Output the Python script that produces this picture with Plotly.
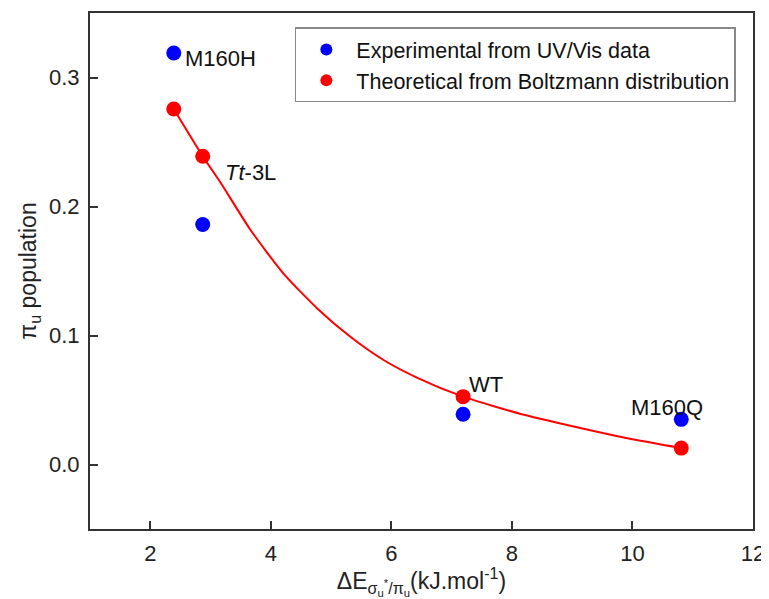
import plotly.graph_objects as go

# Data
exp_x = [2.39, 2.87, 7.19, 10.81]
exp_y = [0.319, 0.186, 0.039, 0.035]
theo_x = [2.39, 2.87, 7.19, 10.81]
theo_y = [0.2756, 0.239, 0.0526, 0.0127]
# fitted red curve
fit_x = [2.39, 2.87, 3.16, 3.66, 4.21, 4.77, 5.32, 5.87, 6.44, 7.19, 8.2, 9.3, 10.0, 10.81]
fit_y = [0.2756, 0.239, 0.219, 0.182, 0.148, 0.121, 0.099, 0.081, 0.067, 0.0526, 0.0385, 0.0265, 0.0195, 0.0127]
labels = ["M160H", "<i>Tt</i>-3L", "WT", "M160Q"]
label_x = [2.55, 3.2, 7.25, 9.94]
label_y = [0.315, 0.226, 0.0617, 0.0439]

FONT = "Liberation Sans, Arial, sans-serif"
OFF = 8  # page body margin offset

fig = go.Figure()
fig.add_trace(go.Scatter(
    x=fit_x, y=fit_y, mode="lines", line=dict(color="#ff0000", width=2, shape="spline", smoothing=0.6),
    showlegend=False, hoverinfo="skip"))
fig.add_trace(go.Scatter(
    x=exp_x, y=exp_y, mode="markers", name="Experimental from UV/Vis data",
    marker=dict(color="#0000ff", size=15)))
fig.add_trace(go.Scatter(
    x=theo_x, y=theo_y, mode="markers", name="Theoretical from Boltzmann distribution",
    marker=dict(color="#ff0000", size=15)))

for t, lx, ly in zip(labels, label_x, label_y):
    fig.add_annotation(x=lx, y=ly, text=t, showarrow=False, xanchor="left", yanchor="middle",
                       font=dict(family=FONT, size=22, color="#111"))

axis_common = dict(showline=True, linecolor="#333", linewidth=2, mirror=True,
                   ticks="inside", ticklen=8, tickwidth=1.5, tickcolor="#333",
                   showgrid=False, zeroline=False, automargin=False, ticklabelstandoff=4,
                   tickfont=dict(family=FONT, size=22, color="#222"))

fig.update_xaxes(range=[1, 12], tickvals=[2, 4, 6, 8, 10, 12],
                 title=dict(text="ΔE<sub>σ<sub>u</sub><sup>*</sup>/π<sub>u</sub></sub>(kJ.mol<sup>-1</sup>)",
                            font=dict(family=FONT, size=23, color="#222"), standoff=2),
                 **axis_common)
fig.update_yaxes(range=[-0.05, 0.35], tickvals=[0.0, 0.1, 0.2, 0.3], ticktext=["0.0", "0.1", "0.2", "0.3"],
                 title=dict(text="π<sub>u</sub> population",
                            font=dict(family=FONT, size=23, color="#222"), standoff=6),
                 **axis_common)

fig.update_layout(
    template="none",
    width=769 - OFF, height=599 - OFF,
    margin=dict(l=90 - OFF, r=16, t=13 - OFF, b=70),
    plot_bgcolor="white", paper_bgcolor="white",
    legend=dict(x=0.309, y=0.972, xanchor="left", yanchor="top",
                bgcolor="white", bordercolor="#888", borderwidth=1.5,
                font=dict(family=FONT, size=21.5, color="#111"),
                itemsizing="constant", itemwidth=50, tracegroupgap=0),
)

fig.write_html("out.html")
